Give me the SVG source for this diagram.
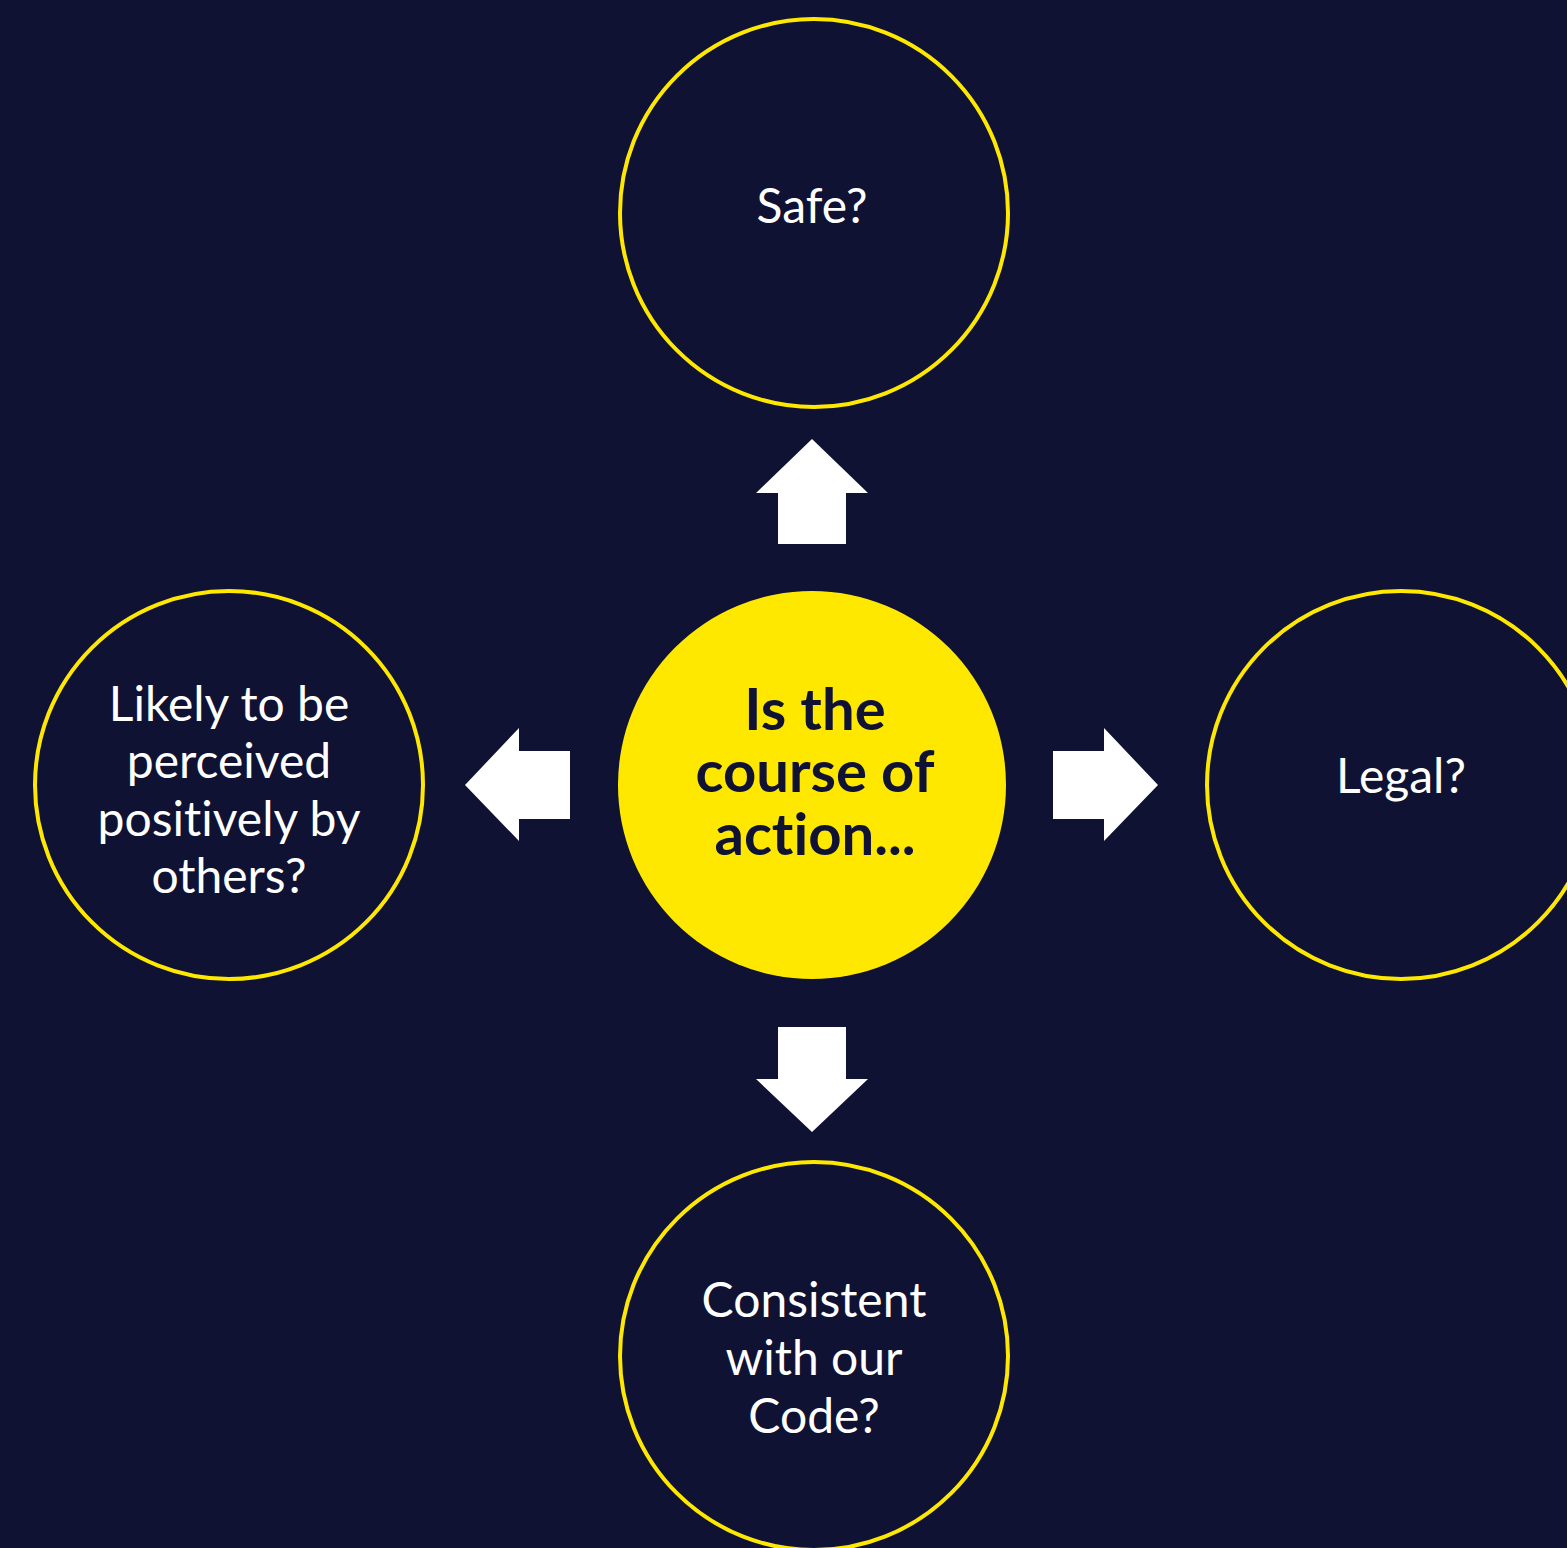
<svg xmlns="http://www.w3.org/2000/svg" width="1567" height="1548" viewBox="0 0 1567 1548">
<style>
.ring{fill:#0f1233;stroke:#ffe800;stroke-width:4}
.hub{fill:#ffe800}
.lbl{font-family:Lato,"Liberation Sans",sans-serif;font-size:48px;fill:#ffffff;text-anchor:middle;font-variant-ligatures:none}
.hubl{font-family:Lato,"Liberation Sans",sans-serif;font-size:58px;font-weight:bold;fill:#0f1233;text-anchor:middle;font-variant-ligatures:none}
.arr{fill:#ffffff}
</style>
<rect x="0" y="0" width="1567" height="1548" fill="#0f1233"/>
<g id="connectors">
<polygon class="arr" points="812,439 868,493 846,493 846,544 778,544 778,493 756,493"/>
<polygon class="arr" points="465,785 519,728 519,751 570,751 570,819 519,819 519,841"/>
<polygon class="arr" points="1158,785 1104,728 1104,751 1053,751 1053,819 1104,819 1104,841"/>
<polygon class="arr" points="812,1132 868,1079 846,1079 846,1027 778,1027 778,1079 756,1079"/>
</g>
<g id="center">
<circle class="hub" cx="812" cy="785" r="194"/>
<text class="hubl" x="815" y="730">Is the</text>
<text class="hubl" x="815" y="792">course of</text>
<text class="hubl" x="815" y="855">action...</text>
</g>
<g id="safe">
<circle class="ring" cx="814" cy="213" r="194"/>
<text class="lbl" x="812" y="223">Safe?</text>
</g>
<g id="legal">
<circle class="ring" cx="1401" cy="785" r="194"/>
<text class="lbl" x="1401" y="793">Legal?</text>
</g>
<g id="perceived">
<circle class="ring" cx="229" cy="785" r="194"/>
<text class="lbl" x="229" y="721">Likely to be</text>
<text class="lbl" x="229" y="778">perceived</text>
<text class="lbl" x="229" y="836">positively by</text>
<text class="lbl" x="229" y="893">others?</text>
</g>
<g id="code">
<circle class="ring" cx="814" cy="1356" r="194"/>
<text class="lbl" x="814" y="1317">Consistent</text>
<text class="lbl" x="814" y="1375">with our</text>
<text class="lbl" x="814" y="1433">Code?</text>
</g>
</svg>
